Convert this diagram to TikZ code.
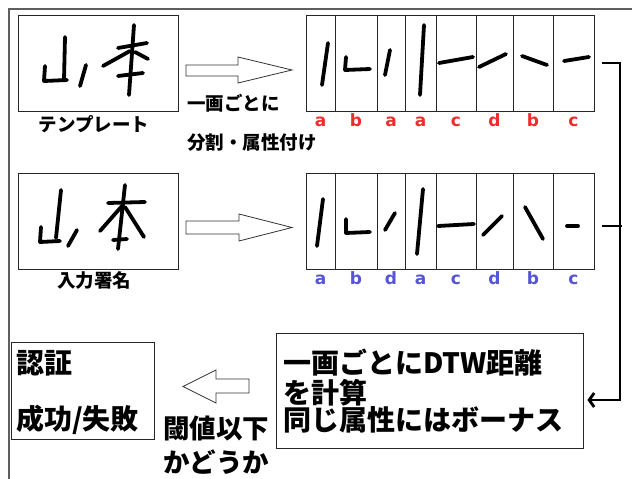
\documentclass[tikz,border=0pt]{standalone}
\usepackage{fontspec}
\newfontfamily\jp{Noto Sans CJK JP}
\newfontfamily\lat{DejaVu Sans}
\usetikzlibrary{calc,arrows.meta}
\definecolor{lblred}{RGB}{240,45,45}
\definecolor{lblblue}{RGB}{85,85,215}
\definecolor{framegray}{RGB}{95,95,95}
\begin{document}
\begin{tikzpicture}[x=1pt,y=-1pt,
  box/.style={draw=black!85,line width=0.9pt,inner sep=0pt},
  cell/.style={box,minimum height=96pt},
  pen/.style={line width=3.8pt,line cap=round,line join=round},
  lbl/.style={font=\lat\bfseries\fontsize{17}{17}\selectfont,inner sep=0pt,anchor=base},
  small/.style={font=\jp\bfseries\fontsize{18.5}{18.5}\selectfont,inner sep=0pt},
  big/.style={font=\jp\bfseries\fontsize{28}{28}\selectfont,inner sep=0pt,anchor=west},
  blockarrow/.style={draw=black!80,line width=0.8pt,fill=white,line join=miter},
  conn/.style={line width=2.8pt,line join=miter}]
\useasboundingbox (0,0) rectangle (632,479);
% outer frame
\draw[framegray,line width=1.3pt] (9,479) -- (9,9) -- (632,9);

% template signature
\node[box,minimum width=160pt,minimum height=96pt] (tmpl) at (98,63) {};
\draw[pen] (45,66) -- (44,81) -- (67,80);
\draw[pen] (65,37) -- (64,80);
\draw[pen] (86,65) -- (80,86);
\draw[pen] (134,25) -- (129,95);
\draw[pen] (118,48) -- (147,43);
\draw[pen] (130,51) -- (103,66);
\draw[pen] (135,52) -- (148,59);
\draw[pen] (118,76) -- (143,73);
\node[small] (tmpllbl) at (94,124) {テンプレート};

% input signature
\node[box,minimum width=160pt,minimum height=96pt] (inp) at (98,221) {};
\draw[pen] (61,190) -- (56,238);
\draw[pen] (41,227) -- (40,242) -- (60,241);
\draw[pen] (77,230) -- (68,246);
\draw[pen] (125,185) -- (118,249);
\draw[pen] (108,203) -- (145,202);
\draw[pen] (122,206) -- (100,231);
\draw[pen] (125,207) -- (144,237);
\draw[pen] (113,240) -- (127,239);
\node[small] (inplbl) at (94,280) {入力署名};

% block arrows
\draw[blockarrow] (186,65) -- (238,65) -- (238,57) -- (292,70) -- (238,83) -- (238,76) -- (186,76) -- cycle;
\draw[blockarrow] (186,221) -- (239,221) -- (239,214) -- (292,227.5) -- (239,241) -- (239,234) -- (186,234) -- cycle;
\node[small,anchor=west] (step1) at (187,103) {一画ごとに};
\node[small,anchor=west] (step2) at (187,143) {分割・属性付け};

% stroke strips
\foreach \l/\r/\c [count=\i] in {306/335/a,335/377/b,377/405/a,405/436/a,436/476/c,476/513/d,513/553/b,553/594/c}{
  \node[cell,minimum width={\r-\l}] (t\i) at ({(\l+\r)/2},63) {};
  \node[lbl,text=lblred] (tl\i) at ({(\l+\r)/2},126) {\c};
}
\foreach \l/\r/\c [count=\i] in {306/335/a,335/377/b,377/405/d,405/436/a,436/476/c,476/513/d,513/553/b,553/594/c}{
  \node[cell,minimum width={\r-\l}] (i\i) at ({(\l+\r)/2},221) {};
  \node[lbl,text=lblblue] (il\i) at ({(\l+\r)/2},284) {\c};
}
% strokes, template
\draw[pen] (328,43) -- (322,85);
\draw[pen] (346,57) -- (345,70) -- (370,69);
\draw[pen] (390,50) -- (385,75);
\draw[pen] (424,25) -- (420,95);
\draw[pen] (439,63) -- (473,57);
\draw[pen] (479,67) -- (506,54);
\draw[pen] (522,56) -- (547,65);
\draw[pen] (564,61) -- (589,57);
% strokes, input
\draw[pen] (323,199) -- (317,246);
\draw[pen] (346,219) -- (346,233) -- (370,232);
\draw[pen] (395,213) -- (385,230);
\draw[pen] (423,189) -- (417,254);
\draw[pen] (438,226) -- (474,224);
\draw[pen] (502,216) -- (483,235);
\draw[pen] (525,207) -- (543,239);
\draw[pen] (567,226) -- (578,226);

% DTW box
\node[box,minimum width=307pt,minimum height=115pt] (dtw) at (429.5,390.5) {};
\node[big] (d1) at (283,363) {一画ごとにDTW距離};
\node[big] (d2) at (283,393) {を計算};
\node[big] (d3) at (283,420) {同じ属性にはボーナス};

% result box
\node[box,minimum width=143pt,minimum height=97pt] (res) at (82.5,390.5) {};
\node[big] (r1) at (16,363) {認証};
\node[big] (r2) at (16,420) {成功/失敗};

% left block arrow
\draw[blockarrow] (249,379) -- (216,379) -- (216,370) -- (183,386.5) -- (216,403) -- (216,393) -- (249,393) -- cycle;
\node[big,font=\jp\bfseries\fontsize{26.5}{26.5}\selectfont] (th1) at (163,428) {閾値以下};
\node[big,font=\jp\bfseries\fontsize{26.5}{26.5}\selectfont] (th2) at (163,462) {かどうか};

% connectors
\coordinate (bend) at (620,400);
\draw[conn,-{Straight Barb[length=5pt,width=14pt]}] ($(t8.east)+(8,0)$) -| (bend) -- ($(dtw.east)+(4,9.5)$);
\draw[conn] ($(i8.east)+(8,5)$) -- ($(i8.east)+(27.4,5)$);
\end{tikzpicture}
\end{document}
